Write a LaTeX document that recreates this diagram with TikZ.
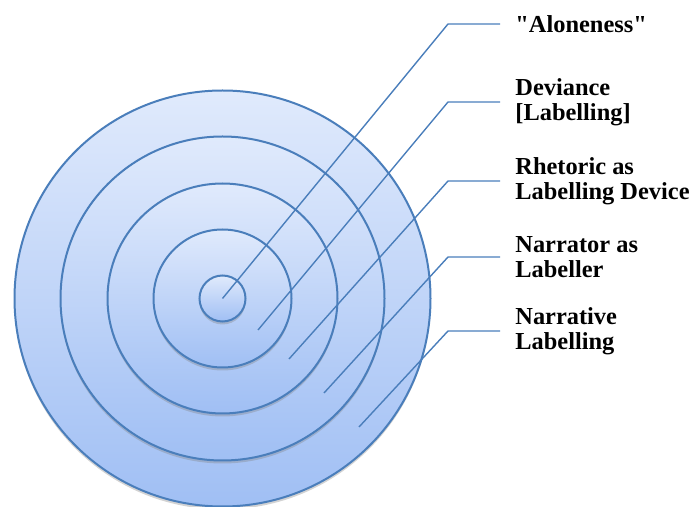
\documentclass[tikz,border=0pt]{standalone}
\usepackage{fontspec}
\setmainfont{Liberation Serif}[Ligatures=TeXOff]
\usepackage{tikz}
\usetikzlibrary{positioning, shadows}
\definecolor{ringline}{HTML}{4A7EBB}
\definecolor{ringtop}{HTML}{E0EAFC}
\definecolor{ringbot}{HTML}{A0BFF4}

\begin{document}
\begin{tikzpicture}[
    x=0.5pt, y=-0.5pt,
    ring/.style={circle, draw=ringline, line width=1pt, inner sep=0pt,
        top color=ringtop, bottom color=ringbot,
        drop shadow={shadow xshift=0pt, shadow yshift=-1.5pt, opacity=0.35}},
    tag/.style={anchor=west, align=left, inner xsep=7.5pt, inner ysep=0pt,
        font=\fontsize{12.2}{12.5}\selectfont\bfseries},
    leader/.style={draw=ringline, line width=0.7pt}
]
\useasboundingbox (0,0) rectangle (696,507);

% Rings (outer to inner)
\node[ring, minimum size=208pt] (narrative) at (222.5,298.5) {};
\node[ring, minimum size=162pt] (narrator) at (222.5,298.5) {};
\node[ring, minimum size=115pt] (rhetoric) at (222.5,298.5) {};
\node[ring, minimum size=69pt] (deviance) at (222.5,298.5) {};
\node[ring, minimum size=23pt] (alone) at (222.5,298.5) {};

% Labels (right)
\node[tag] (lalone) at (500,24) {"Aloneness"};
\node[tag] (ldeviance) at (500,102) {Deviance\\{}[Labelling]};
\node[tag] (lrhetoric) at (500,181) {Rhetoric as\\Labelling Device};
\node[tag] (lnarrator) at (500,257) {Narrator as\\Labeller};
\node[tag] (lnarrative) at (500,331) {Narrative\\Labelling};

% Leader start points
\coordinate (s1) at (222.5,298.5);
\coordinate (s2) at (258,330);
\coordinate (s3) at (289,359);
\coordinate (s4) at (324,393);
\coordinate (s5) at (359,427);

% Leaders
\draw[leader] (s1) -- (448,24) -- (lalone.west);
\draw[leader] (s2) -- (448,102) -- (ldeviance.west);
\draw[leader] (s3) -- (448,181) -- (lrhetoric.west);
\draw[leader] (s4) -- (448,257) -- (lnarrator.west);
\draw[leader] (s5) -- (448,331) -- (lnarrative.west);

\end{tikzpicture}
\end{document}
